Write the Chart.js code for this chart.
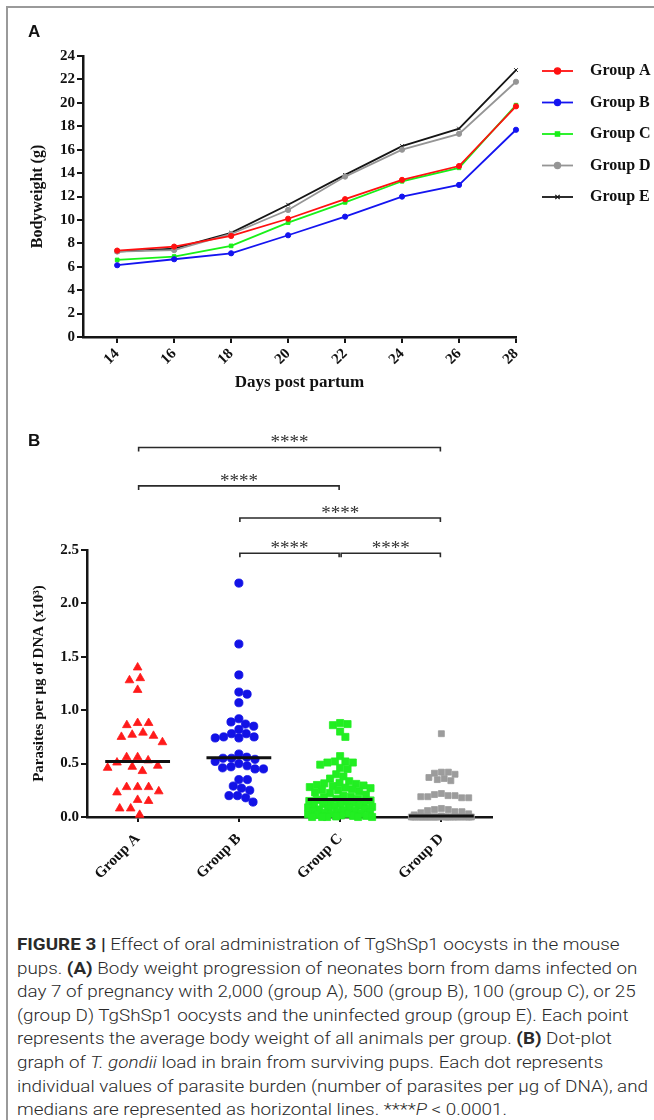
<!DOCTYPE html>
<html><head><meta charset="utf-8">
<script src="https://cdn.jsdelivr.net/npm/chart.js@4.4.1/dist/chart.umd.min.js"></script>
<style>
html,body{margin:0;padding:0;background:#fff;}
body{width:654px;height:1120px;position:relative;overflow:hidden;}
#frame{position:absolute;left:6px;top:6px;width:700px;height:1200px;border-left:2px solid #9a9a9a;border-top:2px solid #9a9a9a;}
.panel{position:absolute;font:bold 17px "Liberation Sans",Arial,sans-serif;color:#111;}
canvas{position:absolute;left:0;}
#caption{position:absolute;left:17px;top:933px;font-family:Roboto,"Liberation Sans",sans-serif;font-weight:300;font-size:17px;color:#2a2a2a;}
#caption div{white-space:nowrap;height:23.6px;line-height:23.6px;transform-origin:0 50%;}
#caption b{font-weight:700;}
</style></head>
<body>
<div id="frame"></div>
<canvas id="cA" width="654" height="400" style="top:0"></canvas>
<canvas id="cB" width="654" height="500" style="top:400px"></canvas>
<div class="panel" style="left:28px;top:22px">A</div>
<div class="panel" style="left:28px;top:431px">B</div>
<div id="caption">
<div><b>FIGURE 3 |</b> Effect of oral administration of TgShSp1 oocysts in the mouse</div>
<div>pups. <b>(A)</b> Body weight progression of neonates born from dams infected on</div>
<div>day 7 of pregnancy with 2,000 (group A), 500 (group B), 100 (group C), or 25</div>
<div>(group D) TgShSp1 oocysts and the uninfected group (group E). Each point</div>
<div>represents the average body weight of all animals per group. <b>(B)</b> Dot-plot</div>
<div>graph of <i>T. gondii</i> load in brain from surviving pups. Each dot represents</div>
<div>individual values of parasite burden (number of parasites per μg of DNA), and</div>
<div>medians are represented as horizontal lines. ****<i>P</i> &lt; 0.0001.</div>
</div>
<script>
// ---------- Panel A data ----------
const days = [14, 16, 18, 20, 22, 24, 26, 28];
const weightGroups = ['Group A', 'Group B', 'Group C', 'Group D', 'Group E'];
const weightA = [7.38, 7.72, 8.63, 10.1, 11.77, 13.42, 14.6, 19.7];
const weightB = [6.13, 6.64, 7.15, 8.69, 10.28, 11.99, 12.99, 17.7];
const weightC = [6.58, 6.87, 7.78, 9.77, 11.5, 13.3, 14.45, 19.8];
const weightD = [7.3, 7.42, 8.8, 10.85, 13.7, 16.0, 17.35, 21.8];
const weightE = [7.3, 7.55, 8.9, 11.3, 13.85, 16.3, 17.8, 22.8];
const yTicksA = [0, 2, 4, 6, 8, 10, 12, 14, 16, 18, 20, 22, 24];

// ---------- Panel B data ----------
const dotGroups = ['Group A', 'Group B', 'Group C', 'Group D'];
const loadA = [1.40, 1.30, 1.28, 1.19, 0.88, 0.88, 0.86, 0.79, 0.77, 0.76, 0.75, 0.70, 0.56, 0.56, 0.53,
  0.51, 0.48, 0.47, 0.46, 0.43, 0.28, 0.28, 0.28, 0.24, 0.23, 0.16, 0.15, 0.08, 0.08, 0.02];
const loadB = [2.19, 1.62, 1.33, 1.17, 1.15, 1.07, 0.92, 0.89, 0.87, 0.85, 0.82, 0.78, 0.78, 0.75, 0.75,
  0.74, 0.74, 0.59, 0.56, 0.55, 0.55, 0.54, 0.52, 0.50, 0.48, 0.47, 0.46, 0.45, 0.45, 0.35, 0.35, 0.29,
  0.27, 0.25, 0.20, 0.20, 0.18, 0.14];
const loadC = [0.88, 0.87, 0.86, 0.80, 0.75, 0.57, 0.52, 0.52, 0.51, 0.51, 0.49, 0.46, 0.45, 0.40, 0.38, 0.36,
  0.335, 0.32, 0.315, 0.31, 0.30, 0.295, 0.29, 0.28, 0.275, 0.27, 0.26, 0.255, 0.25, 0.24, 0.23, 0.225,
  0.21, 0.20, 0.19, 0.185, 0.17, 0.17, 0.16, 0.155, 0.15, 0.145, 0.14, 0.135, 0.13, 0.12, 0.12, 0.11,
  0.105, 0.10, 0.095, 0.09, 0.085, 0.08, 0.075, 0.07, 0.065, 0.06, 0.055, 0.05, 0.045, 0.04, 0.035,
  0.03, 0.03, 0.025, 0.02, 0.015, 0.01, 0.01, 0.005, 0.0, 0.0, 0.0, 0.0, 0.0];
const loadD = [0.78, 0.42, 0.42, 0.41, 0.40, 0.37, 0.36, 0.35, 0.34, 0.22, 0.21, 0.20, 0.20, 0.19, 0.19,
  0.18, 0.18, 0.08, 0.07, 0.07, 0.06, 0.05, 0.05, 0.04, 0.03, 0.02, 0.01,
  0.0, 0.0, 0.0, 0.0, 0.0, 0.0, 0.0, 0.0, 0.0, 0.0, 0.0, 0.0, 0.0, 0.0, 0.0, 0.0, 0.0, 0.0, 0.0, 0.0,
  0.0, 0.0, 0.0, 0.0, 0.0, 0.0];
const yTicksB = [0, 0.5, 1.0, 1.5, 2.0, 2.5];
// comparisons: [from group, to group, bracket level]
const comparisons = [[0, 3, 3.46], [0, 2, 3.10], [1, 3, 2.80], [1, 2, 2.47], [2, 3, 2.47]];
const sigLabel = '****';

// ---------- styles ----------
const SERIF = '"Liberation Serif", "DejaVu Serif", serif';
const AX = '#151515';
const lineColors = ['#ff1010', '#1414f0', '#18f018', '#959595', '#151515'];
const lineMarkers = ['circle', 'circle', 'rect', 'circle', 'crossRot'];
const dotColors = ['#ff1a1a', '#1212e6', '#22ee22', '#9c9c9c'];
const dotMarkers = ['triangle', 'circle', 'rect', 'rect'];
const dotRadius = [5, 4.1, 5, 4.2];
const swarmGap = [11, 8.5, 7.5, 7];
const swarmCap = [30, 28, 32, 30];
const tickFont = {family: SERIF, size: 15, weight: 'bold'};

function axisStyle(extra) {
  return Object.assign({
    border: {color: AX, width: 2.5},
    grid: {drawOnChartArea: false, drawTicks: true, tickLength: 6, color: AX, lineWidth: 2},
    ticks: {font: tickFont, color: '#111'}
  }, extra);
}

// ---------- Panel A ----------
const weightSeries = [weightA, weightB, weightC, weightD, weightE];
const sideLegend = {
  id: 'sideLegend',
  afterDraw(chart) {
    const ctx = chart.ctx;
    const x0 = 542, x1 = 573, tx = 590, y0 = 71, dy = 31.5;
    chart.data.datasets.forEach((ds, i) => {
      const y = y0 + i * dy;
      ctx.save();
      ctx.strokeStyle = ds.borderColor; ctx.lineWidth = ds.borderWidth;
      ctx.beginPath(); ctx.moveTo(x0, y); ctx.lineTo(x1, y); ctx.stroke();
      ctx.fillStyle = ds.borderColor; ctx.lineWidth = 1.2;
      Chart.helpers.drawPoint(ctx, {pointStyle: ds.pointStyle, radius: ds.pointRadius + 0.5, borderWidth: 1.2}, (x0 + x1) / 2, y);
      ctx.fillStyle = '#111';
      ctx.font = 'bold 16px ' + SERIF;
      ctx.textBaseline = 'middle';
      ctx.fillText(ds.label, tx, y);
      ctx.restore();
    });
  }
};

new Chart(document.getElementById('cA'), {
  type: 'line',
  data: {
    datasets: weightSeries.map((vals, i) => ({
      label: weightGroups[i],
      data: days.map((d, j) => ({x: d, y: vals[j]})),
      borderColor: lineColors[i],
      backgroundColor: lineColors[i],
      pointBackgroundColor: lineColors[i],
      pointBorderColor: lineColors[i],
      borderWidth: 1.8,
      pointStyle: lineMarkers[i],
      pointRadius: 2.6,
      pointBorderWidth: 1,
      tension: 0,
      clip: false
    }))
  },
  options: {
    responsive: false, animation: false,
    layout: {padding: {top: 56, right: 138, left: 24, bottom: 0}},
    plugins: {legend: {display: false}, tooltip: {enabled: false}},
    scales: {
      x: axisStyle({
        type: 'linear', min: 12.8, max: 28,
        afterBuildTicks: s => { s.ticks = days.map(v => ({value: v})); },
        ticks: {font: tickFont, color: '#111', minRotation: 45, maxRotation: 45, padding: 2},
        title: {display: true, text: 'Days post partum', font: {family: SERIF, size: 17, weight: 'bold'}, color: '#111', padding: {top: 0, bottom: 7}},
        afterFit: s => { s.height = 63; }
      }),
      y: axisStyle({
        min: 0, max: 24,
        afterBuildTicks: s => { s.ticks = yTicksA.map(v => ({value: v})); },
        ticks: {font: tickFont, color: '#111', padding: 2},
        title: {display: true, text: 'Bodyweight (g)', font: {family: SERIF, size: 16, weight: 'bold'}, color: '#111', padding: {top: 4, bottom: 0}},
        afterFit: s => { s.width = 59; }
      })
    }
  },
  plugins: [sideLegend]
});

// ---------- Panel B ----------
const loads = [loadA, loadB, loadC, loadD];
function median(arr) {
  const s = arr.slice().sort((a, b) => a - b);
  const n = s.length;
  return n % 2 ? s[(n - 1) / 2] : (s[n / 2 - 1] + s[n / 2]) / 2;
}
const brackets = {
  id: 'brackets',
  afterDraw(chart) {
    const xs = chart.scales.x, ys = chart.scales.y, ctx = chart.ctx;
    ctx.save();
    comparisons.forEach(([a, b, lvl]) => {
      const xa = xs.getPixelForValue(a) + 1, xb = xs.getPixelForValue(b) - 1, y = ys.getPixelForValue(lvl);
      ctx.strokeStyle = '#2a2a2a'; ctx.lineWidth = 1.6;
      ctx.beginPath(); ctx.moveTo(xa, y + 4); ctx.lineTo(xa, y); ctx.lineTo(xb, y); ctx.lineTo(xb, y + 4); ctx.stroke();
      ctx.fillStyle = '#333';
      ctx.font = '19px ' + SERIF;
      ctx.textAlign = 'center'; ctx.textBaseline = 'alphabetic';
      ctx.fillText(sigLabel, (xa + xb) / 2, y + 1);
    });
    ctx.restore();
  }
};

const dotDatasets = loads.map((vals, gi) => ({
  type: 'scatter',
  label: dotGroups[gi],
  data: vals.map(v => ({x: gi, y: v})),
  backgroundColor: dotColors[gi],
  borderColor: dotColors[gi],
  pointStyle: dotMarkers[gi],
  pointRadius: dotRadius[gi],
  borderWidth: 0.8,
  clip: false,
  order: 1
}));
const medianDatasets = loads.map((vals, gi) => {
  const m = median(vals);
  return {
    type: 'line',
    label: dotGroups[gi] + ' median',
    data: [{x: gi - 0.32, y: m}, {x: gi + 0.32, y: m}],
    borderColor: '#111', borderWidth: 3, pointRadius: 0, clip: false, order: 0
  };
});

const chartB = new Chart(document.getElementById('cB'), {
  type: 'scatter',
  data: {datasets: dotDatasets.concat(medianDatasets)},
  options: {
    responsive: false, animation: false,
    layout: {padding: {top: 150, right: 162, left: 26, bottom: 0}},
    plugins: {legend: {display: false}, tooltip: {enabled: false}},
    scales: {
      x: axisStyle({
        type: 'linear', min: -0.5, max: 3.5,
        afterBuildTicks: s => { s.ticks = dotGroups.map((g, i) => ({value: i})); },
        grid: {drawOnChartArea: false, drawTicks: true, tickLength: 5, color: AX, lineWidth: 2},
        ticks: {font: tickFont, color: '#111', minRotation: 45, maxRotation: 45, padding: 8,
          callback: v => dotGroups[v]},
        afterFit: s => { s.height = 83; }
      }),
      y: axisStyle({
        min: 0, max: 2.5,
        afterBuildTicks: s => { s.ticks = yTicksB.map(v => ({value: v})); },
        ticks: {font: tickFont, color: '#111', padding: 2, callback: v => v.toFixed(1)},
        title: {display: true, text: 'Parasites per μg of DNA (x10³)', font: {family: SERIF, size: 15, weight: 'bold'}, color: '#111', padding: {top: 4, bottom: 0}},
        afterFit: s => { s.width = 61; }
      })
    }
  },
  plugins: [brackets]
});

// deterministic beeswarm arrangement of the dots (computed from the values)
function layoutSwarm(chart) {
  const xs = chart.scales.x, ys = chart.scales.y;
  const unit = xs.getPixelForValue(1) - xs.getPixelForValue(0);
  loads.forEach((vals, gi) => {
    const gap = swarmGap[gi], cap = swarmCap[gi];
    const idx = vals.map((v, i) => i).sort((a, b) => vals[b] - vals[a]);
    const placed = [], pos = new Array(vals.length);
    idx.forEach(i => {
      const y = ys.getPixelForValue(vals[i]);
      const cands = [0];
      placed.forEach(p => {
        const dy = Math.abs(p.y - y);
        if (dy < gap) { const dx = Math.sqrt(gap * gap - dy * dy); cands.push(p.x + dx, p.x - dx); }
      });
      const ok = c => placed.every(p => (p.x - c) ** 2 + (p.y - y) ** 2 >= gap * gap - 0.01);
      const balance = placed.reduce((s, p) => s + Math.sign(p.x), 0);
      let best = null;
      cands.filter(c => Math.abs(c) <= cap && ok(c)).forEach(c => {
        if (best === null || Math.abs(c) < Math.abs(best) - 1e-6 ||
            (Math.abs(Math.abs(c) - Math.abs(best)) < 1e-6 && ((balance > 0 && c < best) || (balance <= 0 && c > best)))) best = c;
      });
      if (best === null) {
        let bestScore = -1;
        for (let c = -cap; c <= cap + 1e-6; c += 1) {
          const m = Math.min(...placed.map(p => Math.hypot(p.x - c, p.y - y)));
          if (m > bestScore + 1e-6 || (Math.abs(m - bestScore) < 1e-6 && Math.abs(c) < Math.abs(best))) { bestScore = m; best = c; }
        }
      }
      placed.push({x: best, y});
      pos[i] = best;
    });
    chart.data.datasets[gi].data = vals.map((v, i) => ({x: gi + pos[i] / unit, y: v}));
  });
  chart.update('none');
}
layoutSwarm(chartB);

// caption width fitting
const capLines = Array.from(document.querySelectorAll('#caption div'));
const w = capLines[6].getBoundingClientRect().width;
const k = 631 / w;
capLines.forEach(d => { d.style.transform = 'scaleX(' + k + ')'; });
</script>
</body></html>
